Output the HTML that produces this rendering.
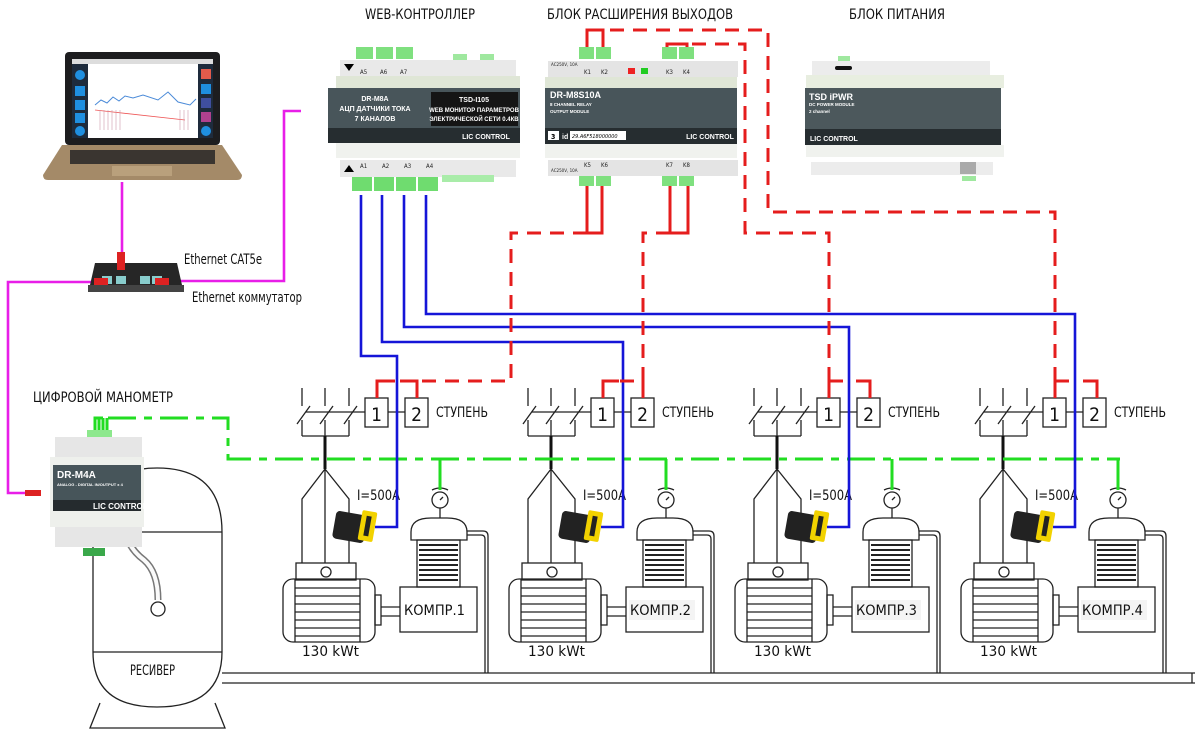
<!DOCTYPE html>
<html><head><meta charset="utf-8"><style>
html,body{margin:0;padding:0;background:#fff;}
svg{display:block;}
text{font-family:"DejaVu Sans Condensed","Liberation Sans Narrow","Liberation Sans",sans-serif;}
.t{font-size:14px;fill:#111;}
.w{fill:#fff;font-family:"Liberation Sans",sans-serif;font-weight:bold;}
.k{stroke:#222;stroke-width:1.3;fill:none;}
.rd{stroke:#e51d1d;stroke-width:3;fill:none;stroke-dasharray:14 9;}
.rs{stroke:#e51d1d;stroke-width:3;fill:none;}
.bl{stroke:#1515d8;stroke-width:2.6;fill:none;}
.pk{stroke:#e81ee8;stroke-width:2.6;fill:none;}
.gr{stroke:#22dd22;stroke-width:3;fill:none;}
</style></head><body>
<svg width="1200" height="735" viewBox="0 0 1200 735" xmlns="http://www.w3.org/2000/svg">
<defs>
<g id="grp">
  <path class="k" d="M302 388v18M325 388v18M349 388v18M302 420v16M325 420v16M349 420v16M302 436h47"/>
  <path class="k" d="M297 424l13-18M320 424l13-18M344 424l13-18"/>
  <path class="k" d="M306 412h59"/>
  <rect class="k" x="365" y="398" width="23" height="29" fill="#fff"/>
  <rect class="k" x="405" y="398" width="23" height="29" fill="#fff"/>
  <path class="k" d="M388 412h17"/>
  <text x="376.5" y="421" font-size="19" text-anchor="middle" fill="#111">1</text>
  <text x="416.5" y="421" font-size="19" text-anchor="middle" fill="#111">2</text>
  <text class="t" x="436" y="417" font-size="13" textLength="52" lengthAdjust="spacingAndGlyphs">СТУПЕНЬ</text>
  <path d="M325 436v33" stroke="#111" stroke-width="3"/>
  <path class="k" d="M325 469l-23 30v64M325 469v94M325 469l24 30v64"/>
  <text class="t" x="357" y="500" font-size="13" textLength="43" lengthAdjust="spacingAndGlyphs">I=500A</text>
  <rect x="334" y="513" width="32" height="28" rx="4" fill="#222" transform="rotate(10 350 527)"/>
  <rect x="360" y="511" width="15" height="30" rx="2" fill="#f2d200" transform="rotate(10 367 526)"/>
  <rect x="365" y="516" width="5" height="20" fill="#222" transform="rotate(10 367 526)"/>
  <rect class="k" x="296" y="563" width="60" height="17" fill="#f4f4f4"/>
  <circle class="k" cx="326" cy="572" r="5"/>
  <rect class="k" x="283" y="579" width="92" height="63" rx="10" fill="#f4f4f4"/>
  <path class="k" d="M295 579v63M360 579v63M295 588h65M295 596h65M295 604h65M295 612h65M295 620h65M295 628h65M295 636h65"/>
  <rect class="k" x="375" y="595" width="6" height="30" fill="#f4f4f4"/>
  <path class="k" d="M381 607h19M381 616h19"/>
  <text class="t" x="302" y="656" font-size="14" textLength="57" lengthAdjust="spacingAndGlyphs">130 kWt</text>
  <rect class="k" x="400" y="587" width="77" height="45" fill="#f4f4f4"/>
  <text class="t" x="404" y="615" font-size="14" textLength="61" lengthAdjust="spacingAndGlyphs">КОМПР.1</text>
  <rect class="k" x="417" y="540" width="43" height="47" fill="#fff"/>
  <path d="M419 545h39M419 550h39M419 555h39M419 560h39M419 565h39M419 570h39M419 575h39M419 580h39" stroke="#222" stroke-width="2"/>
  <path class="k" d="M411 540v-8q0-14 20-14h16q20 0 20 14v8z" fill="#f4f4f4"/>
  <path class="k" d="M440 518v-10"/>
  <circle class="k" cx="440" cy="500" r="8" fill="#fff"/>
  <path class="k" d="M440 500l3-3M432 490q8-4 16 0"/>
  <path class="k" d="M467 531h16q5 0 5 5v137M467 535h14q4 0 4 4v134"/>
</g>
</defs>

<text class="t" x="365" y="19" font-size="14" textLength="110" lengthAdjust="spacingAndGlyphs">WEB-КОНТРОЛЛЕР</text>
<text class="t" x="547" y="19" font-size="14" textLength="186" lengthAdjust="spacingAndGlyphs">БЛОК РАСШИРЕНИЯ ВЫХОДОВ</text>
<text class="t" x="849" y="19" font-size="14" textLength="96" lengthAdjust="spacingAndGlyphs">БЛОК ПИТАНИЯ</text>

<path class="k" d="M222 673H1195M222 683H1195"/>
<path class="k" d="M1192 673v10"/>

<path class="k" d="M100 703l-10 25h135l-10-25" fill="#fff"/>
<path class="k" d="M93 532q0-64 64-64q65 0 65 64v120q0 55-65 55q-64 0-64-55z" fill="#f5f5f5"/>
<path class="k" d="M93 532h129M93 652h129"/>
<text class="t" x="130" y="675" font-size="14" textLength="45" lengthAdjust="spacingAndGlyphs">РЕСИВЕР</text>
<path d="M124 520q0 25 20 40q14 12 14 40" stroke="#777" stroke-width="7" fill="none"/>
<path d="M124 520q0 25 20 40q14 12 14 40" stroke="#fafafa" stroke-width="4" fill="none"/>
<circle class="k" cx="158" cy="609" r="7" fill="#fff"/>

<use href="#grp"/>
<g transform="translate(226 0)"><use href="#grp"/></g>
<g transform="translate(452 0)"><use href="#grp"/></g>
<g transform="translate(678 0)"><use href="#grp"/></g>
<rect x="629" y="600" width="66" height="20" fill="#f4f4f4"/><text class="t" x="630" y="615" font-size="14" textLength="61" lengthAdjust="spacingAndGlyphs">КОМПР.2</text>
<rect x="855" y="600" width="66" height="20" fill="#f4f4f4"/><text class="t" x="856" y="615" font-size="14" textLength="61" lengthAdjust="spacingAndGlyphs">КОМПР.3</text>
<rect x="1081" y="600" width="66" height="20" fill="#f4f4f4"/><text class="t" x="1082" y="615" font-size="14" textLength="61" lengthAdjust="spacingAndGlyphs">КОМПР.4</text>

<path class="gr" d="M95 430v-12h8M99 430v-12M103 430v-12M107 430v-12"/>
<path class="gr" d="M108 418h120v41h892" stroke-dasharray="28 8 8 8"/>
<path class="gr" d="M440 459v31M666 459v31M892 459v31M1118 459v31"/>

<path class="bl" d="M361 195v161h36v171h-22"/>
<path class="bl" d="M382 195v147h241v185h-22"/>
<path class="bl" d="M404 195v132h445v200h-22"/>
<path class="bl" d="M426 195v119h649v213h-22"/>

<path class="rs" d="M587 50V30h16v20M667 50V44h20v6"/>
<path class="rd" d="M610 30H768V212H1055V382"/>
<path class="rd" d="M692 44H745V233H829V382"/>
<path class="rs" d="M587 178v55h15v-55M670 178v55h18v-55"/>
<path class="rd" d="M587 233H511V381H400"/>
<path class="rd" d="M670 233H643V381H620"/>
<path class="rs" d="M377 398v-17h18M417 398v-17h-10"/>
<path class="rs" d="M603 398v-17h16M643 398v-17"/>
<path class="rs" d="M829 398v-17h14M870 398v-17h-14"/>
<path class="rs" d="M1055 398v-17h14M1097 398v-17h-14"/>

<path class="pk" d="M122 182v78M100 282H8v211h32M168 281h116V111h17"/>

<rect x="65" y="52" width="155" height="93" rx="4" fill="#1d1d1f"/>
<rect x="72" y="59" width="141" height="79" fill="#fff"/>
<rect x="72" y="59" width="141" height="5" fill="#ddd"/>
<rect x="72" y="64" width="16" height="74" fill="#1e2b3c"/>
<rect x="198" y="64" width="15" height="74" fill="#1e2b3c"/>
<circle cx="80" cy="75" r="5" fill="#1f8fe0"/><rect x="75" y="86" width="10" height="10" fill="#1f8fe0"/><rect x="75" y="100" width="10" height="10" fill="#1f8fe0"/><rect x="75" y="113" width="10" height="10" fill="#1f8fe0"/><circle cx="80" cy="131" r="5" fill="#1f8fe0"/>
<rect x="201" y="69" width="10" height="10" fill="#e35b4b"/><rect x="201" y="84" width="10" height="10" fill="#1f8fe0"/><rect x="201" y="98" width="10" height="10" fill="#3f4f9f"/><rect x="201" y="112" width="10" height="10" fill="#b0418f"/><circle cx="206" cy="131" r="5" fill="#1f8fe0"/>
<path d="M95 105l6-5 6 3 6-6 6 4 6-5 8 2 10-3 15 5 10-8 10 10 12 3 6-6" stroke="#4a8ad8" fill="none" stroke-width="1"/>
<path d="M95 110l90 10" stroke="#e55" stroke-width="0.8"/>
<path d="M100 110v20M104 110v20M108 110v20M112 110v20M116 110v20M120 110v20M180 110v20M184 110v20M188 110v20" stroke="#c9a" stroke-width="0.6"/>
<path d="M62 145h160l20 30q0 5-5 5H48q-5 0-5-5z" fill="#a48a68"/>
<rect x="70" y="150" width="145" height="14" fill="#3a3530"/>
<rect x="112" y="166" width="60" height="10" fill="#b9a07c"/>

<path d="M95 263h82l5 22H90z" fill="#262626"/>
<rect x="88" y="285" width="96" height="7" fill="#444"/>
<rect x="102" y="276" width="10" height="8" fill="#8cc"/><rect x="116" y="276" width="10" height="8" fill="#8cc"/><rect x="140" y="276" width="10" height="8" fill="#8cc"/><rect x="152" y="276" width="10" height="8" fill="#8cc"/>
<rect x="117" y="252" width="8" height="18" fill="#d22"/>
<rect x="94" y="278" width="14" height="7" fill="#d22"/><rect x="155" y="278" width="14" height="7" fill="#d22"/>
<text class="t" x="184" y="264" font-size="13" textLength="78" lengthAdjust="spacingAndGlyphs">Ethernet CAT5e</text>
<text class="t" x="192" y="302" font-size="13" textLength="110" lengthAdjust="spacingAndGlyphs">Ethernet коммутатор</text>

<text class="t" x="33" y="402" font-size="15" textLength="140" lengthAdjust="spacingAndGlyphs">ЦИФРОВОЙ МАНОМЕТР</text>
<rect x="87" y="430" width="25" height="7" fill="#8de88d"/>
<rect x="55" y="437" width="87" height="20" fill="#e6e6e6"/>
<rect x="50" y="457" width="94" height="70" fill="#eef0ec"/>
<rect x="53" y="465" width="88" height="46" fill="#47555a"/>
<rect x="53" y="500" width="88" height="11" fill="#252b2e"/>
<text class="w" x="57" y="478" font-size="10">DR-M4A</text>
<text class="w" x="57" y="486" font-size="4">ANALOG - DIGITAL IN/OUTPUT x 4</text>
<text class="w" x="93" y="509" font-size="8">LIC CONTROL</text>
<rect x="55" y="527" width="87" height="20" fill="#e6e6e6"/>
<rect x="83" y="548" width="22" height="8" fill="#3aa84a"/>
<rect x="25" y="490" width="16" height="6" fill="#d22"/>

<rect x="356" y="47" width="17" height="12" fill="#7fe07f"/><rect x="376" y="47" width="17" height="12" fill="#7fe07f"/><rect x="396" y="47" width="17" height="12" fill="#7fe07f"/>
<rect x="453" y="54" width="14" height="6" fill="#9fe89f"/><rect x="480" y="54" width="14" height="6" fill="#9fe89f"/>
<rect x="340" y="60" width="176" height="16" fill="#e9e9e9"/>
<path d="M344 64l5 7 5-7z" fill="#000"/>
<text x="360" y="74" font-size="6" fill="#222">A5</text><text x="380" y="74" font-size="6" fill="#222">A6</text><text x="400" y="74" font-size="6" fill="#222">A7</text>
<rect x="336" y="76" width="184" height="12" fill="#dfe6d6"/>
<rect x="328" y="88" width="192" height="55" fill="#48555a"/>
<rect x="328" y="128" width="192" height="15" fill="#262d30"/>
<text class="w" x="375" y="101" font-size="7" text-anchor="middle">DR-M8A</text>
<text class="w" x="375" y="111" font-size="7" text-anchor="middle">АЦП ДАТЧИКИ ТОКА</text>
<text class="w" x="375" y="121" font-size="7" text-anchor="middle">7 КАНАЛОВ</text>
<rect x="431" y="92" width="87" height="34" fill="#151515"/>
<text class="w" x="474" y="102" font-size="7" text-anchor="middle">TSD-I105</text>
<text class="w" x="474" y="112" font-size="6" text-anchor="middle">WEB МОНИТОР ПАРАМЕТРОВ</text>
<text class="w" x="474" y="121" font-size="6" text-anchor="middle">ЭЛЕКТРИЧЕСКОЙ СЕТИ 0.4КВ</text>
<text class="w" x="486" y="139" font-size="7" text-anchor="middle">LIC CONTROL</text>
<rect x="336" y="143" width="184" height="15" fill="#f0f2ee"/>
<rect x="340" y="160" width="176" height="17" fill="#e9e9e9"/>
<path d="M344 172l5-7 5 7z" fill="#000"/>
<text x="360" y="168" font-size="6" fill="#222">A1</text><text x="382" y="168" font-size="6" fill="#222">A2</text><text x="404" y="168" font-size="6" fill="#222">A3</text><text x="426" y="168" font-size="6" fill="#222">A4</text>
<rect x="352" y="177" width="20" height="14" fill="#6fdc6f"/><rect x="374" y="177" width="20" height="14" fill="#6fdc6f"/><rect x="396" y="177" width="20" height="14" fill="#6fdc6f"/><rect x="418" y="177" width="20" height="14" fill="#6fdc6f"/>
<rect x="442" y="175" width="52" height="7" fill="#a9eca9"/>

<rect x="579" y="47" width="15" height="12" fill="#7fe07f"/><rect x="596" y="47" width="15" height="12" fill="#7fe07f"/><rect x="662" y="47" width="15" height="12" fill="#7fe07f"/><rect x="679" y="47" width="15" height="12" fill="#7fe07f"/>
<rect x="548" y="61" width="190" height="16" fill="#e4e4e4"/>
<text x="551" y="66" font-size="4.5" fill="#222">AC250V, 10A</text>
<text x="584" y="74" font-size="6" fill="#222">K1</text><text x="601" y="74" font-size="6" fill="#222">K2</text><text x="666" y="74" font-size="6" fill="#222">K3</text><text x="683" y="74" font-size="6" fill="#222">K4</text>
<rect x="628" y="68" width="7" height="6" fill="#e22"/><rect x="641" y="68" width="7" height="6" fill="#2c2"/>
<rect x="545" y="77" width="192" height="11" fill="#dfe6d6"/>
<rect x="545" y="88" width="192" height="56" fill="#48555a"/>
<rect x="545" y="128" width="192" height="16" fill="#262d30"/>
<text class="w" x="550" y="98" font-size="9">DR-M8S10A</text>
<text class="w" x="550" y="106" font-size="4.5" font-weight="normal">8 CHANNEL RELAY</text>
<text class="w" x="550" y="113" font-size="4.5" font-weight="normal">OUTPUT MODULE</text>
<rect x="548" y="131" width="11" height="9" fill="#fff"/><text x="551" y="139" font-size="7" font-weight="bold" fill="#000">3</text>
<text class="w" x="562" y="139" font-size="7">id</text>
<rect x="570" y="131" width="56" height="9" fill="#fff"/><text x="572" y="138" font-size="5.5" fill="#000" font-style="italic">29.A6F518000000</text>
<text class="w" x="710" y="139" font-size="7" text-anchor="middle">LIC CONTROL</text>
<rect x="545" y="144" width="192" height="14" fill="#f0f2ee"/>
<rect x="548" y="160" width="190" height="16" fill="#e4e4e4"/>
<text x="551" y="172" font-size="4.5" fill="#222">AC250V, 10A</text>
<text x="584" y="167" font-size="6" fill="#222">K5</text><text x="601" y="167" font-size="6" fill="#222">K6</text><text x="666" y="167" font-size="6" fill="#222">K7</text><text x="683" y="167" font-size="6" fill="#222">K8</text>
<rect x="579" y="176" width="15" height="10" fill="#7fe07f"/><rect x="596" y="176" width="15" height="10" fill="#7fe07f"/><rect x="662" y="176" width="15" height="10" fill="#7fe07f"/><rect x="679" y="176" width="15" height="10" fill="#7fe07f"/>

<rect x="838" y="56" width="12" height="5" fill="#9fe89f"/>
<rect x="812" y="61" width="178" height="14" fill="#ececec"/>
<rect x="835" y="66" width="17" height="4" rx="2" fill="#111"/>
<rect x="806" y="75" width="198" height="13" fill="#e8eee0"/>
<rect x="805" y="88" width="196" height="57" fill="#4c585c"/>
<rect x="805" y="129" width="196" height="16" fill="#262d30"/>
<text class="w" x="809" y="100" font-size="9">TSD iPWR</text>
<text class="w" x="809" y="106" font-size="4.5" font-weight="normal">DC POWER MODULE</text>
<text class="w" x="809" y="113" font-size="4.5" font-weight="normal">2 channel</text>
<text class="w" x="810" y="141" font-size="7">LIC CONTROL</text>
<rect x="806" y="145" width="198" height="12" fill="#f0f2ee"/>
<rect x="811" y="162" width="182" height="13" fill="#ececec"/>
<rect x="960" y="162" width="16" height="12" fill="#aaa"/>
<rect x="962" y="176" width="14" height="5" fill="#9fe89f"/>
</svg>
</body></html>
